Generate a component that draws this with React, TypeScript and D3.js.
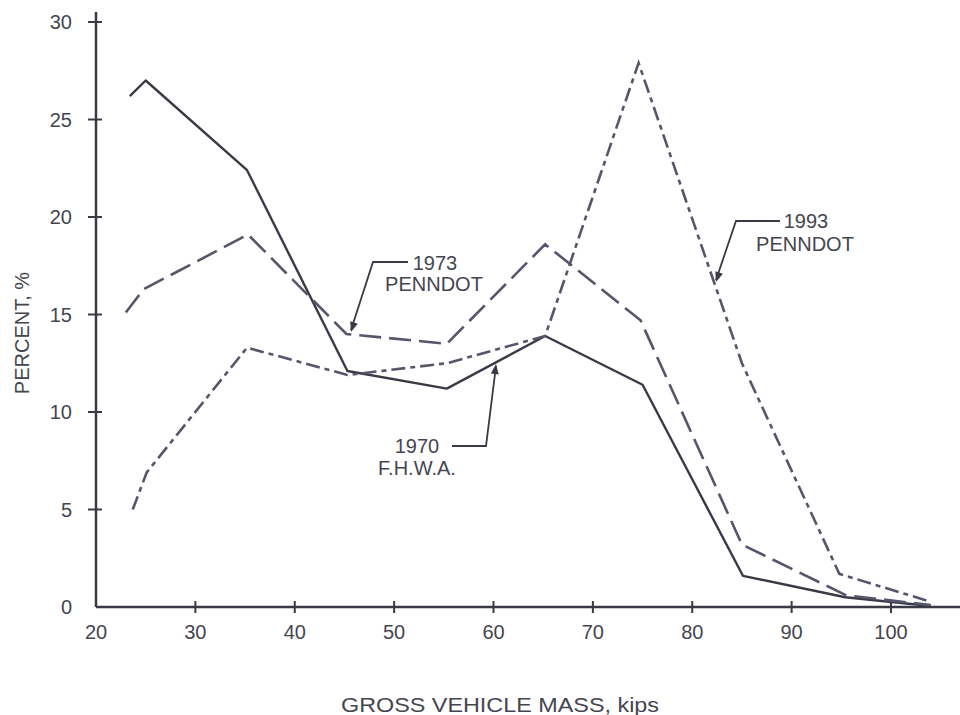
import React from "react";
import * as d3 from "d3";

// ---- data ----
const xTicks = [20, 30, 40, 50, 60, 70, 80, 90, 100];
const yTicks = [0, 5, 10, 15, 20, 25, 30];

const fhwa1970X = [23.4, 25, 35.2, 45.3, 55.3, 65.2, 75, 85.1, 95.4, 104];
const fhwa1970Y = [26.2, 27.0, 22.4, 12.1, 11.2, 13.9, 11.4, 1.6, 0.5, 0.05];

const penndot1973X = [23, 24.8, 35.3, 45.2, 55.3, 65.2, 74.8, 85, 95.5, 104];
const penndot1973Y = [15.1, 16.3, 19.1, 14.0, 13.5, 18.6, 14.7, 3.2, 0.6, 0.1];

const penndot1993X = [23.7, 25.1, 35.2, 45.3, 55.3, 65.2, 74.6, 85, 94.8, 103.8];
const penndot1993Y = [5.0, 6.9, 13.3, 11.9, 12.5, 13.9, 27.9, 12.5, 1.7, 0.3];

const seriesLabels = [
  { lines: ["1973", "PENNDOT"], tx: 434, ty: 270, path: [[405, 262], [372, 262]], tipX: 45.3, tipY: 14.0, arrowX: 350, arrowY: 331 },
];

const W = 960;
const H = 715;
const INK = "#3a3a46";
const DASH_INK = "#55556c";
const TEXT = "#454550";
const FONT = "'Liberation Sans', Arial, sans-serif";

export default function App() {
  const x = d3.scaleLinear().domain([20, 100]).range([96, 891]);
  const y = d3.scaleLinear().domain([0, 30]).range([607, 22]);

  const line = d3
    .line<[number, number]>()
    .x((d) => x(d[0]))
    .y((d) => y(d[1]));

  const zip = (xs: number[], ys: number[]) =>
    xs.map((v, i) => [v, ys[i]] as [number, number]);

  const arrowHead = (tx: number, ty: number, fx: number, fy: number) => {
    const ang = Math.atan2(ty - fy, tx - fx);
    const len = 10;
    const half = 4;
    const bx = tx - len * Math.cos(ang);
    const by = ty - len * Math.sin(ang);
    const px = -Math.sin(ang) * half;
    const py = Math.cos(ang) * half;
    return `M${tx},${ty}L${bx + px},${by + py}L${bx - px},${by - py}Z`;
  };

  return (
    <svg
      width={W}
      height={H}
      style={{ position: "absolute", left: 0, top: 0, background: "#fff" }}
      fontFamily={FONT}
    >
      {/* axes */}
      <line x1={x(20)} y1={y(0)} x2={W} y2={y(0)} stroke={INK} strokeWidth={2.5} />
      <line x1={x(20)} y1={y(0)} x2={x(20)} y2={12} stroke={INK} strokeWidth={2.5} />

      {yTicks.map((t) => (
        <g key={"y" + t}>
          {t > 0 && (
            <line x1={x(20) - 8} x2={x(20) + 6} y1={y(t)} y2={y(t)} stroke={INK} strokeWidth={2} />
          )}
          <text
            x={72}
            y={y(t)}
            textAnchor="end"
            dominantBaseline="central"
            fontSize={20}
            fill={TEXT}
          >
            {t}
          </text>
        </g>
      ))}

      {xTicks.map((t) => (
        <g key={"x" + t}>
          {t > 20 && (
            <line x1={x(t)} x2={x(t)} y1={y(0) - 6} y2={y(0) + 6} stroke={INK} strokeWidth={2} />
          )}
          <text x={x(t)} y={639} textAnchor="middle" fontSize={20} fill={TEXT}>
            {t}
          </text>
        </g>
      ))}

      <text x={500} y={712} textAnchor="middle" fontSize={21} fill={TEXT} textLength={318} lengthAdjust="spacingAndGlyphs">
        GROSS VEHICLE MASS, kips
      </text>
      <text
        transform="translate(29,333) rotate(-90)"
        textAnchor="middle"
        fontSize={20}
        fill={TEXT}
      >
        PERCENT, %
      </text>

      {/* series */}
      <path d={line(zip(fhwa1970X, fhwa1970Y)) || ""} fill="none" stroke={INK} strokeWidth={2.4} strokeLinejoin="round" />
      <path d={line(zip(penndot1973X, penndot1973Y)) || ""} fill="none" stroke={DASH_INK} strokeWidth={2.6} strokeDasharray="22,8" />
      <path d={line(zip(penndot1993X, penndot1993Y)) || ""} fill="none" stroke={DASH_INK} strokeWidth={2.6} strokeDasharray="14,5,5,5" />

      {/* annotations */}
      <g fill={TEXT} fontSize={20} textAnchor="middle">
        <text x={435} y={270}>1973</text>
        <text x={434} y={291}>PENNDOT</text>
        <text x={417} y={453}>1970</text>
        <text x={417} y={475}>F.H.W.A.</text>
        <text x={806} y={228}>1993</text>
        <text x={805} y={251}>PENNDOT</text>
      </g>
      <g stroke={INK} strokeWidth={1.8} fill="none">
        <polyline points="408,262 373,262 351,330" />
        <polyline points="452,446 486,446 496,366" />
        <polyline points="780,221 736,221 716,280" />
      </g>
      <g fill={INK}>
        <path d={arrowHead(351, 332, 373, 262)} />
        <path d={arrowHead(496, 364, 486, 446)} />
        <path d={arrowHead(716, 282, 736, 221)} />
      </g>
    </svg>
  );
}
